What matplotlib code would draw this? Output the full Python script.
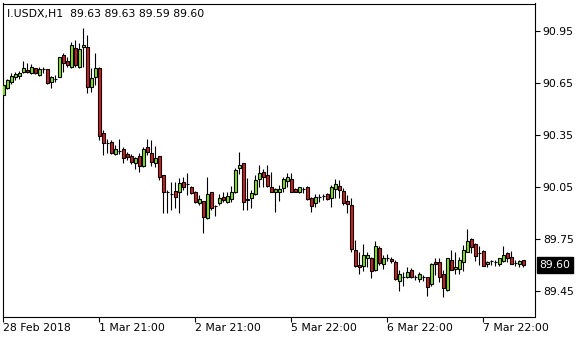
import matplotlib
matplotlib.use("Agg")
import matplotlib.pyplot as plt
import numpy as np

symbol_title = "I.USDX,H1  89.63 89.63 89.59 89.60"
last_price = 89.60

opens = [90.581, 90.621, 90.656, 90.685, 90.691, 90.714, 90.725, 90.708, 90.737, 90.696,
         90.731, 90.731, 90.656, 90.673, 90.685, 90.812, 90.777, 90.742, 90.852, 90.742,
         90.858, 90.858, 90.627, 90.685, 90.737, 90.362, 90.304, 90.310, 90.240, 90.258,
         90.269, 90.240, 90.229, 90.188, 90.229, 90.171, 90.281, 90.246, 90.188, 90.229,
         90.119, 90.021, 90.010, 90.027, 90.021, 90.079, 90.067, 90.050, 90.021, 89.958,
         89.969, 89.871, 90.021, 89.940, 89.958, 89.992, 89.963, 89.981, 90.021, 90.160,
         90.188, 89.975, 89.987, 90.010, 90.096, 90.137, 90.119, 90.050, 90.021, 90.021,
         90.044, 90.085, 90.096, 90.039, 90.021, 90.039, 90.050, 89.987, 89.958, 89.992,
         89.998, 90.010, 89.987, 90.039, 90.056, 90.027, 89.969, 89.946, 89.687, 89.600,
         89.594, 89.640, 89.640, 89.571, 89.698, 89.606, 89.640, 89.635, 89.617, 89.508,
         89.531, 89.531, 89.571, 89.531, 89.519, 89.531, 89.531, 89.490, 89.617, 89.617,
         89.548, 89.456, 89.629, 89.577, 89.577, 89.617, 89.675, 89.750, 89.721, 89.669,
         89.681, 89.606, 89.623, 89.617, 89.606, 89.623, 89.669, 89.646, 89.612, 89.606,
         89.630]
highs = [90.662, 90.673, 90.708, 90.714, 90.719, 90.777, 90.765, 90.760, 90.737, 90.742,
         90.742, 90.731, 90.691, 90.696, 90.800, 90.823, 90.800, 90.887, 90.898, 90.881,
         90.967, 90.927, 90.737, 90.823, 90.742, 90.379, 90.327, 90.321, 90.292, 90.327,
         90.281, 90.252, 90.240, 90.223, 90.246, 90.281, 90.327, 90.321, 90.287, 90.229,
         90.119, 90.033, 90.079, 90.079, 90.102, 90.108, 90.131, 90.056, 90.027, 90.004,
         89.969, 90.108, 90.021, 89.946, 90.010, 90.021, 90.021, 90.056, 90.160, 90.252,
         90.188, 90.100, 90.033, 90.119, 90.177, 90.154, 90.177, 90.137, 90.044, 90.062,
         90.108, 90.131, 90.131, 90.044, 90.050, 90.050, 90.056, 89.992, 90.010, 90.010,
         90.010, 90.015, 90.062, 90.096, 90.090, 90.044, 90.004, 89.987, 89.744, 89.675,
         89.721, 89.675, 89.646, 89.738, 89.710, 89.658, 89.663, 89.646, 89.629, 89.571,
         89.560, 89.588, 89.583, 89.542, 89.560, 89.542, 89.531, 89.612, 89.640, 89.640,
         89.571, 89.640, 89.687, 89.675, 89.646, 89.715, 89.808, 89.756, 89.727, 89.710,
         89.687, 89.623, 89.629, 89.629, 89.640, 89.710, 89.675, 89.681, 89.629, 89.629,
         89.630]
lows = [90.569, 90.615, 90.644, 90.667, 90.673, 90.708, 90.708, 90.702, 90.702, 90.691,
        90.708, 90.644, 90.621, 90.656, 90.685, 90.714, 90.742, 90.737, 90.742, 90.737,
        90.742, 90.592, 90.598, 90.639, 90.321, 90.235, 90.246, 90.240, 90.235, 90.240,
        90.188, 90.206, 90.183, 90.154, 90.137, 90.165, 90.235, 90.171, 90.165, 90.090,
        89.900, 89.900, 89.917, 89.929, 89.900, 90.033, 90.004, 90.010, 89.958, 89.946,
        89.785, 89.865, 89.917, 89.883, 89.946, 89.963, 89.958, 89.963, 90.015, 90.125,
        89.917, 89.917, 89.929, 90.004, 90.050, 90.050, 90.050, 90.021, 89.906, 89.969,
        90.021, 90.050, 90.021, 90.021, 90.015, 90.015, 89.975, 89.906, 89.935, 89.963,
        89.975, 89.975, 89.935, 89.987, 89.987, 89.946, 89.900, 89.675, 89.588, 89.548,
        89.565, 89.588, 89.525, 89.565, 89.600, 89.577, 89.623, 89.612, 89.513, 89.450,
        89.479, 89.525, 89.525, 89.513, 89.502, 89.508, 89.421, 89.479, 89.542, 89.502,
        89.415, 89.450, 89.571, 89.548, 89.548, 89.565, 89.675, 89.669, 89.623, 89.600,
        89.594, 89.588, 89.600, 89.594, 89.594, 89.617, 89.617, 89.606, 89.594, 89.588,
        89.590]
closes = [90.639, 90.667, 90.691, 90.702, 90.708, 90.737, 90.714, 90.742, 90.708, 90.731,
          90.731, 90.650, 90.685, 90.673, 90.800, 90.765, 90.754, 90.869, 90.754, 90.846,
          90.869, 90.627, 90.679, 90.737, 90.344, 90.304, 90.304, 90.246, 90.269, 90.258,
          90.217, 90.223, 90.194, 90.217, 90.171, 90.269, 90.252, 90.194, 90.217, 90.108,
          90.021, 90.021, 90.010, 89.992, 90.073, 90.050, 90.067, 90.015, 89.963, 89.981,
          89.877, 90.010, 89.929, 89.940, 89.987, 89.975, 89.998, 90.021, 90.148, 90.177,
          89.963, 89.981, 90.015, 90.090, 90.131, 90.108, 90.056, 90.021, 90.039, 90.039,
          90.096, 90.108, 90.021, 90.021, 90.050, 90.039, 89.981, 89.940, 89.992, 89.992,
          89.998, 89.981, 90.050, 90.067, 90.033, 89.958, 89.952, 89.692, 89.594, 89.588,
          89.658, 89.658, 89.565, 89.710, 89.612, 89.640, 89.640, 89.623, 89.519, 89.548,
          89.531, 89.560, 89.531, 89.531, 89.548, 89.531, 89.473, 89.606, 89.606, 89.531,
          89.467, 89.640, 89.571, 89.588, 89.629, 89.687, 89.738, 89.704, 89.652, 89.669,
          89.594, 89.617, 89.623, 89.617, 89.640, 89.658, 89.640, 89.606, 89.612, 89.623,
          89.600]

x_tick_bars = [0, 24, 48, 72, 96, 120]
x_tick_labels = ["28 Feb 2018", "1 Mar 21:00", "2 Mar 21:00", "5 Mar 22:00", "6 Mar 22:00", "7 Mar 22:00"]
y_ticks = [89.45, 89.75, 90.05, 90.35, 90.65, 90.95]

W, H = 580, 340
fig = plt.figure(figsize=(W / 100, H / 100), dpi=100)
fig.patch.set_facecolor("white")
ax_left, ax_right, ax_top, ax_bot = 2.5, 534.5, 3.5, 316.5
ax = fig.add_axes([ax_left / W, 1 - ax_bot / H, (ax_right - ax_left) / W, (ax_bot - ax_top) / H])

o = np.array(opens); h = np.array(highs); l = np.array(lows); c = np.array(closes)
xs = np.arange(len(o))
up_col = "#7EE81A"
dn_col = "#DC1A1A"
bw = 0.8
lw = 0.8

ax.vlines(xs, l, h, color="black", linewidth=lw, zorder=2)
doji = np.abs(c - o) < 0.004
body_x = xs[~doji]
colors = [up_col if cc > oo else dn_col for oo, cc in zip(o[~doji], c[~doji])]
ax.bar(body_x, (c - o)[~doji], bottom=o[~doji], width=bw, color=colors,
       edgecolor="black", linewidth=lw, zorder=3)
ax.hlines(o[doji], xs[doji] - bw / 2, xs[doji] + bw / 2, color="black", linewidth=lw, zorder=3)

ax.set_xlim(-0.2, 132.8)
ymin = 89.45 - 25.5 * (1.5 / 260)
ymax = 90.95 + 27.5 * (1.5 / 260)
ax.set_ylim(ymin, ymax)

for s in ax.spines.values():
    s.set_color("black")
    s.set_linewidth(0.8)

fs = 7.8
ax.yaxis.tick_right()
ax.set_yticks(y_ticks)
ax.set_yticklabels([f"{v:.2f}" for v in y_ticks], fontsize=fs)
ax.tick_params(axis="y", direction="out", length=3.5, width=0.8, pad=2.5, colors="black")
ax.set_xticks(x_tick_bars)
ax.set_xticklabels(x_tick_labels, fontsize=fs, ha="left")
ax.tick_params(axis="x", direction="out", length=3.5, width=0.8, pad=1.5, colors="black")
for t in ax.get_xticklabels():
    t.set_horizontalalignment("left")

ax.text(4.5 / (ax_right - ax_left), 1 - 10 / (ax_bot - ax_top), symbol_title,
        transform=ax.transAxes, fontsize=fs, color="black", va="center", ha="left")

ax.text(1.0 + 5 / (ax_right - ax_left), last_price, f"{last_price:.2f}",
        transform=ax.get_yaxis_transform(), fontsize=fs, color="white",
        va="center", ha="left", zorder=5,
        bbox=dict(boxstyle="square,pad=0.25", facecolor="black", edgecolor="black"),
        clip_on=False)

fig.savefig("out.png", dpi=100, facecolor="white")
